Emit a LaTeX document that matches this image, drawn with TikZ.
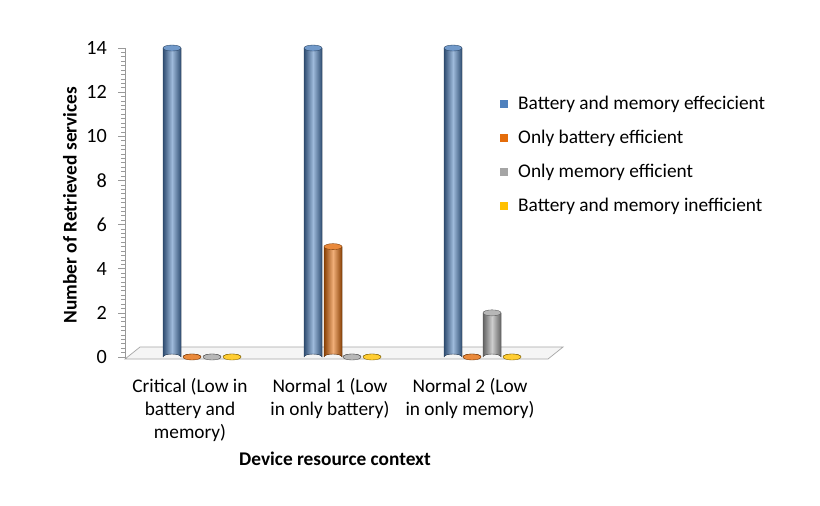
\documentclass[tikz,border=0pt]{standalone}
\usepackage{fontspec}
\setmainfont{Carlito}
\definecolor{cblue}{HTML}{4F81BD}
\definecolor{corange}{HTML}{E46C0A}
\definecolor{cgrey}{HTML}{A5A5A5}
\definecolor{cyellow}{HTML}{FFC000}
\tikzset{
	lbl/.style={font=\fontsize{11}{13}\selectfont},
	tick/.style={font=\fontsize{11.5}{13}\selectfont, anchor=east}
}
% cylinder bar: x position, value, colour
\newcommand{\cylbar}[3]{%
	\pgfmathsetmacro{\ytop}{357-22.07*#2}
	\fill[left color=#3!60!black, right color=#3!60!black, middle color=#3!55!white] (#1-9,357) -- (#1-9,\ytop) -- (#1+9,\ytop) -- (#1+9,357) arc[start angle=0, end angle=-180, x radius=9, y radius=3] -- cycle;
	\draw[#3!50!black, very thin] (#1-9,357) -- (#1-9,\ytop) (#1+9,\ytop) -- (#1+9,357) arc[start angle=0, end angle=-180, x radius=9, y radius=3];
	\filldraw[fill=#3!80!white, draw=#3!50!black, very thin] (#1,\ytop) ellipse[x radius=9, y radius=3];
}
\begin{document}
\begin{tikzpicture}[x=0.02cm, y=-0.02cm]
	\fill[white] (0,0) rectangle (820,506);
	\useasboundingbox (0,0) rectangle (820,506);
	
	% floor
	\draw[gray!70, fill=gray!8] (125,359) -- (548,359) -- (563,347) -- (140,347) -- cycle;
	
	% y axis
	\draw[gray!80] (125,48) -- (125,359);
	\foreach \v in {0,2,...,14} {
		\draw[gray!80] (118,357-22.07*\v) -- (125,357-22.07*\v);
		\node[tick] at (113,357-22.07*\v) {\v};
	}
	\foreach \m in {0,...,69} {
		\draw[gray!80] (121,357-4.414*\m) -- (125,357-4.414*\m);
	}
	
	% bars
	\cylbar{172}{14}{cblue}
	\cylbar{192}{0}{corange}
	\cylbar{212}{0}{cgrey}
	\cylbar{232}{0}{cyellow}
	\cylbar{313}{14}{cblue}
	\cylbar{333}{5}{corange}
	\cylbar{352}{0}{cgrey}
	\cylbar{372}{0}{cyellow}
	\cylbar{453}{14}{cblue}
	\cylbar{472}{0}{corange}
	\cylbar{492}{2}{cgrey}
	\cylbar{512}{0}{cyellow}
	
	% category labels
	\node[lbl, align=center, anchor=north] (c1) at (190,372) {Critical (Low in\\battery and\\memory)};
	\node[lbl, align=center, anchor=north] (c2) at (330,372) {Normal 1 (Low\\in only battery)};
	\node[lbl, align=center, anchor=north] (c3) at (470,372) {Normal 2 (Low\\in only memory)};
	\node[lbl, font=\fontsize{11}{13}\selectfont\bfseries] (xt) at (335,459) {Device resource context};
	\node[lbl, font=\fontsize{11}{13}\selectfont\bfseries, rotate=90] (yt) at (70,205) {Number of Retrieved services};
	
	% legend
	\foreach \c/\t [count=\i from 0] in {cblue/Battery and memory effecicient, corange/Only battery efficient, cgrey/Only memory efficient, cyellow/Battery and memory inefficient} {
		\fill[\c] (500,104+34*\i-4) rectangle +(8,8);
		\node[lbl, anchor=west] (l\i) at (512,104+34*\i) {\t};
	}
\end{tikzpicture}
\end{document}
